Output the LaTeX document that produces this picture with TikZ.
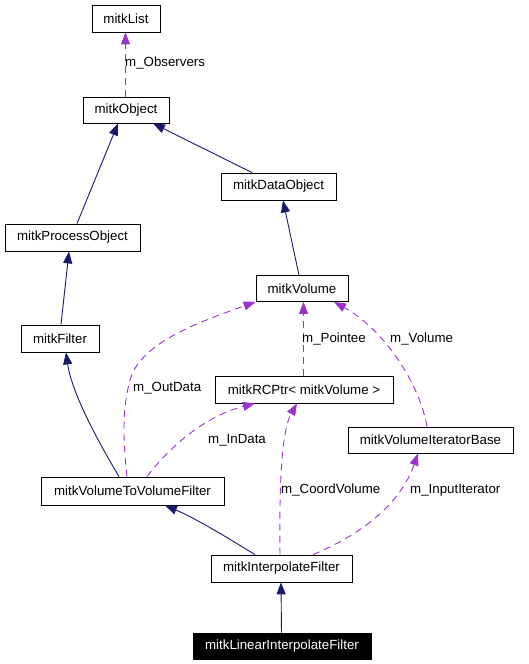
\documentclass[tikz,border=0pt]{standalone}
\usepackage{fontspec}
\setmainfont{Liberation Sans}
\usetikzlibrary{arrows.meta,calc}
\definecolor{navyc}{HTML}{191970}
\definecolor{purp}{HTML}{9A32CD}
\begin{document}
\begin{tikzpicture}[x=1pt,y=-1pt,
  every node/.style={font=\fontsize{13.3}{16}\selectfont},
  cls/.style={draw=black,line width=0.8pt,rectangle,inner sep=0pt,minimum height=27pt},
  cur/.style={cls,fill=black,text=white},
  inh/.style={draw=navyc,line width=0.9pt,-{Triangle[length=12pt,width=9pt,fill=navyc]}},
  use/.style={draw=purp,line width=0.9pt,dash pattern=on 7pt off 5pt,-{Triangle[length=12pt,width=9pt,fill=purp]}},
  lbl/.style={anchor=west,inner sep=0pt}]
\useasboundingbox (0,0) rectangle (528,664);
\node[cls,minimum width=68pt] (list) at (126,18.5) {mitkList};
\node[cls,minimum width=86pt,minimum height=26pt] (obj) at (126,110) {mitkObject};
\node[cls,minimum width=115pt] (dobj) at (278.5,186.5) {mitkDataObject};
\node[cls,minimum width=135pt] (proc) at (72.5,237.5) {mitkProcessObject};
\node[cls,minimum width=92pt,minimum height=26pt] (vol) at (302,288.5) {mitkVolume};
\node[cls,minimum width=78pt] (filt) at (60,338.5) {mitkFilter};
\node[cls,minimum width=178pt] (rcp) at (304,389.5) {mitkRCPtr< mitkVolume >};
\node[cls,minimum width=165pt,minimum height=26pt] (vib) at (430.5,440) {mitkVolumeIteratorBase};
\node[cls,minimum width=183pt,minimum height=28pt] (vtv) at (132.5,491) {mitkVolumeToVolumeFilter};
\node[cls,minimum width=141pt] (interp) at (281.5,568.5) {mitkInterpolateFilter};
\node[cur,minimum width=178pt,minimum height=26pt] (lin) at (282,646) {mitkLinearInterpolateFilter};
% inheritance
\draw[inh] ([xshift=4.5pt]proc.north) -- ([xshift=-8pt]obj.south);
\draw[inh] ([xshift=-26.5pt]dobj.north) -- ([xshift=27pt]obj.south);
\draw[inh] ([xshift=-3pt]vol.north) -- ([xshift=4.5pt]dobj.south);
\draw[inh] ([xshift=1pt]filt.north) -- ([xshift=-3.5pt]proc.south);
\draw[inh] ([xshift=-13.5pt]vtv.north) .. controls (102,448) and (72,395) .. ([xshift=6pt]filt.south);
\draw[inh] ([xshift=-26.5pt]interp.north) .. controls (228,538) and (195,518) .. ([xshift=32.5pt]vtv.south);
\draw[inh] ([xshift=-0.5pt]lin.north) -- ([xshift=-0.5pt]interp.south);
% usage
\draw[use] ([xshift=-0.5pt]obj.north) -- ([xshift=-0.5pt]list.south);
\node[lbl] (lobs) at (125,63) {m\_Observers};
\draw[use] ([xshift=-5.5pt]vtv.north) .. controls (123,440) and (122,410) .. (130,380)
  .. controls (140,345) and (190,325) .. (vol.south west);
\node[lbl] (lout) at (133,388) {m\_OutData};
\draw[use] ([xshift=14.5pt]vtv.north) .. controls (175,440) and (210,415) .. ([xshift=-49pt]rcp.south);
\node[lbl] (lin2) at (208,440) {m\_InData};
\draw[use] ([xshift=-0.5pt]rcp.north) -- ([xshift=1.5pt]vol.south);
\node[lbl] (lpt) at (302,339) {m\_Pointee};
\draw[use] ([xshift=-3.5pt]vib.north) .. controls (420,385) and (385,330) .. ([xshift=32pt]vol.south);
\node[lbl] (lvol) at (390,339) {m\_Volume};
\draw[use] ([xshift=-1.5pt]interp.north) .. controls (279,480) and (282,430) .. ([xshift=-7pt]rcp.south);
\node[lbl] (lcv) at (281,490) {m\_CoordVolume};
\draw[use] ([xshift=31.5pt]interp.north) .. controls (360,535) and (400,505) .. ([xshift=-12.5pt]vib.south);
\node[lbl] (lii) at (410,490) {m\_InputIterator};
\end{tikzpicture}
\end{document}
